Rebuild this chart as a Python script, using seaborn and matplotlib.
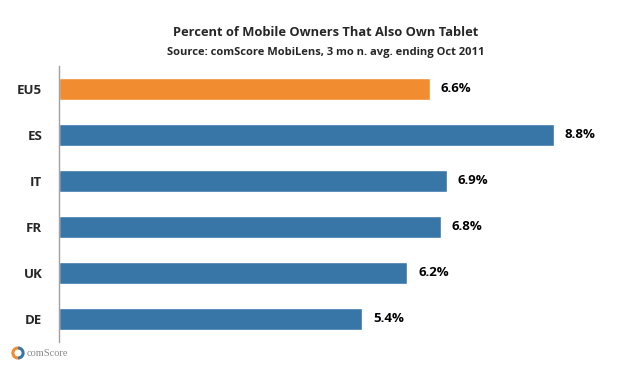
import matplotlib
matplotlib.use("Agg")
import matplotlib.pyplot as plt
import seaborn as sns
import pandas as pd
from matplotlib.patches import Arc

countries = ["EU5", "ES", "IT", "FR", "UK", "DE"]
values = [6.6, 8.8, 6.9, 6.8, 6.2, 5.4]
colors = ["#F28C30", "#3876A8", "#3876A8", "#3876A8", "#3876A8", "#3876A8"]
title = "Percent of Mobile Owners That Also Own Tablet"
subtitle = "Source: comScore MobiLens, 3 mo n. avg. ending Oct 2011"

sns.set_style("white")
plt.rcParams['font.family'] = ['Open Sans', 'DejaVu Sans']

df = pd.DataFrame({"country": countries, "value": values})

fig = plt.figure(figsize=(6.37, 3.73), dpi=100)
ax = fig.add_axes([59/637, 1-342/373, 562/637, 276/373])
sns.barplot(data=df, x="value", y="country", hue="country", palette=colors,
            legend=False, width=0.46, ax=ax, saturation=1, orient="h")
ax.set_xlim(0, 10)
ax.set_ylim(5.5, -0.5)
ax.set_xlabel("")
ax.set_ylabel("")
ax.set_xticks([])
for s in ["top", "right", "bottom"]:
    ax.spines[s].set_visible(False)
ax.spines["left"].set_color("#A0A0A0")
ax.spines["left"].set_linewidth(1.0)
ax.tick_params(axis="y", length=0, pad=12)
for lbl in ax.get_yticklabels():
    lbl.set_fontweight("bold")
    lbl.set_fontsize(9.5)

for i, v in enumerate(values):
    ax.text(v + 0.19, i, f"{v:.1f}%", va="center", ha="left",
            fontsize=9.5, fontweight="bold", color="black")

fig.text(326/637, 1-33/373, title, ha="center", va="center",
         fontsize=9.3, fontweight="bold")
fig.text(326/637, 1-52/373, subtitle, ha="center", va="center",
         fontsize=8, fontweight="bold")

# comScore logo
fig.add_artist(Arc((18/637, 1-353/373), 0.016, 0.027, theta1=90, theta2=270,
                   color="#F28C30", lw=2.2, transform=fig.transFigure))
fig.add_artist(Arc((18/637, 1-353/373), 0.016, 0.027, theta1=-90, theta2=90,
                   color="#3876A8", lw=2.2, transform=fig.transFigure))
fig.text(27/637, 1-353/373, "comScore", ha="left", va="center",
         fontsize=7.5, color="#8A8A8A", family=["Liberation Serif", "DejaVu Serif"])

fig.savefig("out.png", dpi=100)
